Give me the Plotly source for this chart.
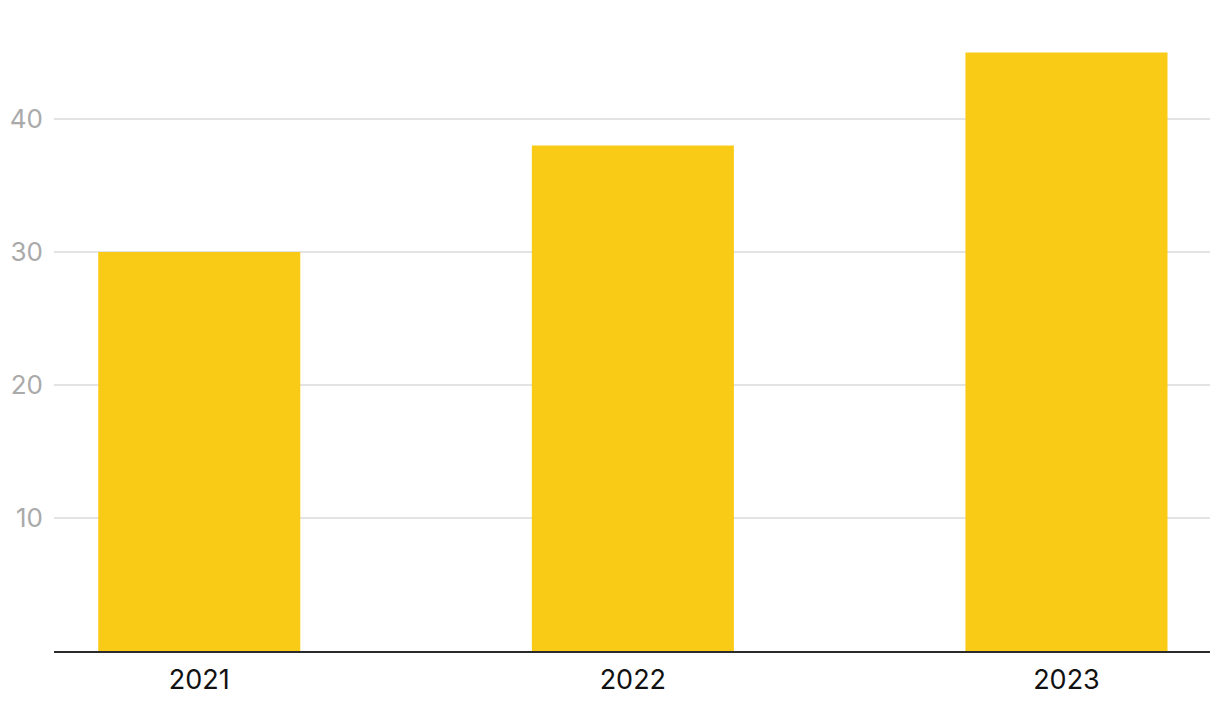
import plotly.graph_objects as go

years = ["2021", "2022", "2023"]
values = [30, 38, 45]
y_ticks = [10, 20, 30, 40]

fig = go.Figure(go.Bar(x=years, y=values, marker_color="#F9CB17", width=0.466, marker_line_width=0))

fig.update_layout(
    width=1220, height=712,
    margin=dict(l=46, r=18, t=12, b=69),
    plot_bgcolor="white", paper_bgcolor="white",
    font=dict(family="Inter", size=27),
    showlegend=False,
)
fig.update_xaxes(
    type="category", range=[-0.335, 2.331], automargin=False,
    showline=True, linecolor="#2b2b2b", linewidth=2,
    showgrid=False, ticks="", tickfont=dict(color="#111111", size=27),
    ticklabelstandoff=4,
)
fig.update_yaxes(
    range=[0, 47.44], tickvals=y_ticks, automargin=False,
    showgrid=True, gridcolor="#e3e3e3", gridwidth=1.5,
    zeroline=False, showline=False, ticks="",
    tickfont=dict(color="#aaaaaa", size=26), ticklabelstandoff=10,
)
fig.write_html("out.html")
